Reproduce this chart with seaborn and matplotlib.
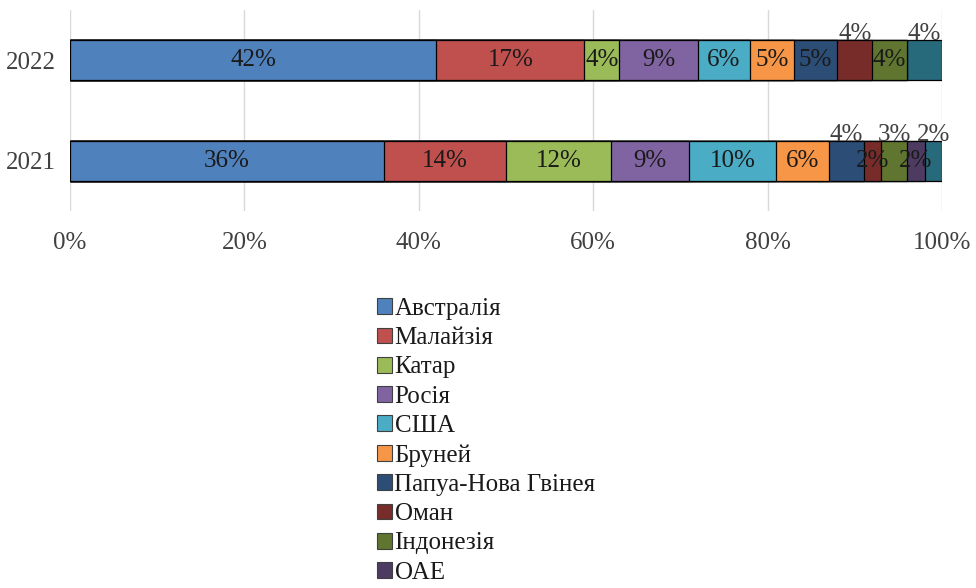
import numpy as np
import matplotlib
matplotlib.use('Agg')
import matplotlib.pyplot as plt
from matplotlib.patches import Patch
import seaborn as sns

# data
years = ['2022', '2021']
countries = ['Австралія', 'Малайзія', 'Катар', 'Росія', 'США', 'Бруней',
             'Папуа-Нова Гвінея', 'Оман', 'Індонезія', 'ОАЕ', 'Інші']
share_2022 = [42, 17, 4, 9, 6, 5, 5, 4, 4, 0, 4]
share_2021 = [36, 14, 12, 9, 10, 6, 4, 2, 3, 2, 2]
colors = ['#4F81BD', '#C0504D', '#9BBB59', '#8064A2', '#4BACC6', '#F79646',
          '#2C4D75', '#772C2A', '#5F7530', '#4D3B62', '#276A7C']

# which labels sit above the bar (small segments)
above_2022 = ['Оман', 'Інші']
above_2021 = ['Папуа-Нова Гвінея', 'Індонезія', 'Інші']

sns.set_theme(style='white')
plt.rcParams['font.family'] = ['Liberation Serif', 'DejaVu Serif']

vals = np.array([share_2022, share_2021], dtype=float)
cum = vals.cumsum(axis=1)

fig = plt.figure(figsize=(9.76, 5.88), dpi=100)
ax = fig.add_axes([70/976, 1 - 211/588, 872/976, 201/588])

# draw cumulative totals from the end back, so each segment shows
for i in range(len(countries) - 1, -1, -1):
    sns.barplot(x=cum[:, i], y=years, orient='h', color=colors[i],
                width=0.4, edgecolor='black', linewidth=0.9, saturation=1,
                ax=ax)

above = [above_2022, above_2021]
for r in range(len(years)):
    for i, c in enumerate(countries):
        v = vals[r, i]
        if v <= 0:
            continue
        xc = cum[r, i] - v / 2
        if c in above[r]:
            ax.text(xc, r - 0.26, f'{int(v)}%', ha='center', va='center',
                    fontsize=18, color='#404040')
        else:
            ax.text(xc, r, f'{int(v)}%', ha='center', va='center',
                    fontsize=18, color='#1a1a1a')

ax.set_xlim(0, 100)
ax.set_ylim(1.5, -0.5)
ax.set_xticks(range(0, 101, 20))
ax.set_xticklabels([f'{t}%' for t in range(0, 101, 20)])
ax.xaxis.grid(True, color='#D9D9D9', linewidth=1)
ax.set_axisbelow(True)
ax.tick_params(axis='x', length=0, pad=15, labelsize=18, labelcolor='#404040')
ax.tick_params(axis='y', length=0, pad=10, labelsize=18, labelcolor='#404040')
ax.set_xlabel('')
ax.set_ylabel('')
for s in ax.spines.values():
    s.set_visible(False)

# legend: only the entries visible in the cropped reference
n_leg = 10
handles = [Patch(facecolor=col, edgecolor='#404040', linewidth=0.8)
           for col in colors[:n_leg]]
fig.legend(handles, countries[:n_leg], loc='upper left',
           bbox_to_anchor=(367/976, 1 - 288/588), frameon=False,
           fontsize=18, handlelength=0.6, handleheight=0.6,
           handletextpad=0.1, labelspacing=0.29, borderaxespad=0,
           labelcolor='#1a1a1a')

fig.savefig('out.png', dpi=100)
